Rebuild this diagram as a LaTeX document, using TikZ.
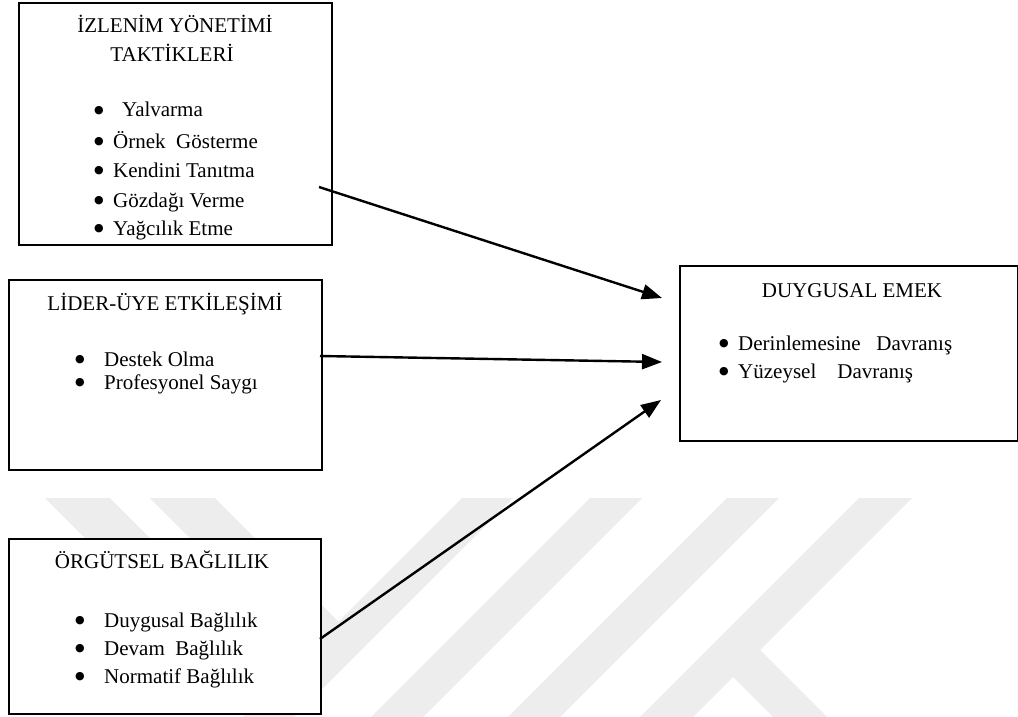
\documentclass[tikz,border=0pt]{standalone}
\usepackage{fontspec}
\setmainfont{Liberation Serif}
\newfontfamily\bulfont{DejaVu Sans}
\usetikzlibrary{arrows.meta}
\definecolor{wmark}{gray}{0.93}
\tikzset{
  box/.style={draw=black, line width=2pt, fill=white, inner sep=0pt, anchor=north west},
  txt/.style={anchor=base west, inner sep=0pt, font=\fontsize{21}{25}\selectfont},
  ttl/.style={anchor=base, inner sep=0pt, font=\fontsize{21}{25}\selectfont},
  bul/.style={anchor=center, inner sep=0pt, font=\bulfont\fontsize{11}{12}\selectfont},
  link/.style={line width=2.4pt, -{Triangle[length=20pt,width=15pt]}},
}
\begin{document}
\begin{tikzpicture}[x=1pt,y=-1pt]
\useasboundingbox (0,0) rectangle (1018,717);
\fill[white] (0,0) rectangle (1018,717);

% faint background emblem
\fill[wmark] (45,498) -- (110,498) -- (260,648) -- (195,648) -- cycle;
\fill[wmark] (150,498) -- (215,498) -- (365,648) -- (300,648) -- cycle;
\fill[wmark] (462,498) -- (513,498) -- (294,717) -- (243,717) -- cycle;
\fill[wmark] (590,498) -- (642,498) -- (423,717) -- (371,717) -- cycle;
\fill[wmark] (727,498) -- (779,498) -- (560,717) -- (508,717) -- cycle;
\fill[wmark] (859,498) -- (912,498) -- (760,650) -- (827,717) -- (773,717)
  -- (733,677) -- (693,717) -- (640,717) -- cycle;

% boxes
\node[box, minimum width=313pt, minimum height=242pt] (b1) at (18,2) {};
\node[box, minimum width=313pt, minimum height=190pt] (b2) at (8,279) {};
\node[box, minimum width=312pt, minimum height=175pt] (b3) at (8,538) {};
\node[box, minimum width=338pt, minimum height=175pt] (b4) at (679,265) {};

% box 1
\node[ttl] (t1a) at (175,33) {İZLENİM YÖNETİMİ};
\node[ttl] (t1b) at (172,62) {TAKTİKLERİ};
\node[bul] (p11) at (99,111) {●};
\node[txt] (i11) at (122,117) {Yalvarma};
\node[bul] (p12) at (99,142) {●};
\node[txt] (i12) at (113,148) {Örnek\ \ Gösterme};
\node[bul] (p13) at (99,171) {●};
\node[txt] (i13) at (113,177) {Kendini Tanıtma};
\node[bul] (p14) at (99,201) {●};
\node[txt] (i14) at (113,207) {Gözdağı Verme};
\node[bul] (p15) at (99,229) {●};
\node[txt] (i15) at (113,235) {Yağcılık Etme};

% box 2
\node[ttl] (t2) at (165,310) {LİDER-ÜYE ETKİLEŞİMİ};
\node[bul] (p21) at (80,360) {●};
\node[txt] (i21) at (104,366) {Destek Olma};
\node[bul] (p22) at (80,383) {●};
\node[txt] (i22) at (104,389) {Profesyonel Saygı};

% box 3
\node[ttl] (t3) at (162,568) {ÖRGÜTSEL BAĞLILIK};
\node[bul] (p31) at (80,621) {●};
\node[txt] (i31) at (104,627) {Duygusal Bağlılık};
\node[bul] (p32) at (80,649) {●};
\node[txt] (i32) at (104,655) {Devam\ \ Bağlılık};
\node[bul] (p33) at (80,677) {●};
\node[txt] (i33) at (104,683) {Normatif Bağlılık};

% box 4
\node[ttl] (t4) at (852,297) {DUYGUSAL EMEK};
\node[bul] (p41) at (724,344) {●};
\node[txt] (i41) at (738,350) {Derinlemesine\ \ \ Davranış};
\node[bul] (p42) at (724,372) {●};
\node[txt] (i42) at (738,378) {Yüzeysel\ \ \ \ Davranış};

% connectors
\coordinate (s1) at (319,187);
\coordinate (e1) at (662,298);
\coordinate (s2) at (320,356);
\coordinate (e2) at (662,362);
\coordinate (s3) at (320,639);
\coordinate (e3) at (661,400);
\draw[link] (s1) -- (e1);
\draw[link] (s2) -- (e2);
\draw[link] (s3) -- (e3);
\end{tikzpicture}
\end{document}
